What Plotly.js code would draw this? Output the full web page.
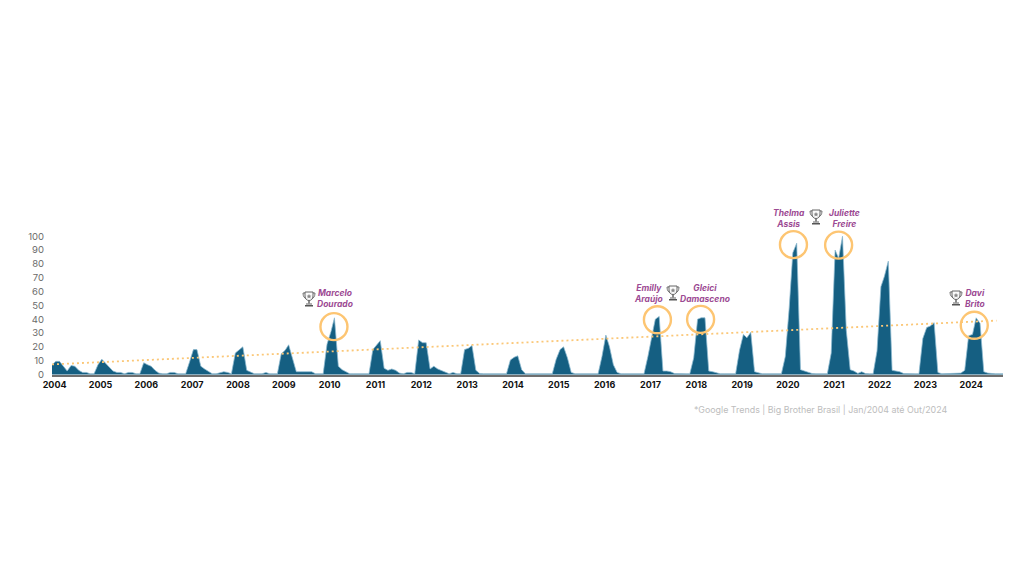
<!DOCTYPE html>
<html>
<head>
<meta charset="utf-8">
<script src="https://cdn.plot.ly/plotly-3.0.1.min.js"></script>
<style>html,body{margin:0;padding:0;background:#fff}#c{width:1024px;height:576px}</style>
</head>
<body>
<div id="c"></div>
<script>
const years = [2004,2005,2006,2007,2008,2009,2010,2011,2012,2013,2014,2015,2016,2017,2018,2019,2020,2021,2022,2023,2024];
const interest = [
  7,9.5,9.5,6,2.5,6.5,6,3,1.5,1.5,.5,.5,
  7,11,8.5,5,2.5,1.5,1.5,.5,1.5,1.5,.5,.5,
  8.5,7,6,3,1,.5,.5,1.5,1.5,.5,.5,.5,
  9,18,18,6,4,2,.5,.5,1,2,1.5,.5,
  15.5,18,20,3,2,.5,.5,.5,1.5,.5,.5,.5,
  15,17.5,21.5,12,2,2,2,2.5,2,.5,.5,.5,
  22,31,41,6,3.5,2,.5,.5,.5,.5,.5,.5,
  18,21,24.5,4.5,3,4,3,1,.5,1.5,1.5,.5,
  25,23,23,4,6,4,3,2,.5,1.5,.5,.5,
  18,19,21,3,.8,.5,.5,.5,.5,.5,.5,.5,
  10.5,12.5,13.5,3.5,.5,.5,.5,.5,.5,.5,.5,.5,
  11,18,20,12,1.5,.5,.5,.5,.5,.5,.5,.5,
  13,28.5,20,7,1.5,.5,.5,.5,.5,.5,.5,.5,
  13,27,40,42,2.5,2.5,2,.7,.5,.5,.5,.5,
  12,40,41,41,2.5,2,1,.5,.5,.5,.5,.5,
  17.5,29,26.5,30.5,2,1,.5,.5,.5,.5,.5,.5,
  13,48,88,95,3.5,2.5,2,.7,.5,.5,.5,.5,
  15.5,90,84,100,32,3.5,2.5,.8,2,.7,.5,.5,
  17,63.5,71,82,3,2.5,2,.7,.5,.5,.5,.5,
  26,34,35,37.5,1.5,.5,.5,.5,.5,.5,1,3,
  28,29,41,37,2,1,.5,.5,.5,.5
];
const yTicks = [0,10,20,30,40,50,60,70,80,90,100];
const trendDates = ['2004-01-01','2024-08-10'];
const trendValues = [7.3,39];
const winnerDates = ['2010-02-25','2017-03-18','2018-02-25','2020-03-06','2021-03-01','2024-02-15'];
const winnerRings = [34.6,39.6,39.9,93.9,93.6,35.6];
const winnerNames = ['Marcelo<br>Dourado','Emilly<br>Araújo','Gleici<br>Damasceno','Thelma<br>Assis','Juliette<br>Freire','Davi<br>Brito'];
const namePx = [[335,298],[648,293],[705,293],[789,218.5],[844,218.5],[975,298]];
const trophyPx = [[309,299],[673,293],[816,217],[956,298]];
const source = '*Google Trends | Big Brother Brasil | Jan/2004 até Out/2024';

const FONT = 'Inter, "Open Sans", sans-serif';
const PL = 52, PW = 951, PT = 200, PH = 175;
const px = x => (x - PL) / PW;
const py = y => (PT + PH - y) / PH;

const dates = interest.map((_, i) => {
  const y = years[0] + Math.floor(i / 12), m = i % 12 + 1;
  return y + '-' + String(m).padStart(2, '0') + '-01';
});

const trophySvg = 'data:image/svg+xml;utf8,' + encodeURIComponent(
  '<svg xmlns="http://www.w3.org/2000/svg" viewBox="0 0 28 32">' +
  '<path d="M7 4H2c0 7 3 11 8 12M21 4h5c0 7-3 11-8 12" fill="none" stroke="#666" stroke-width="1.8"/>' +
  '<path d="M6 2h16v8c0 6-4 9-8 9s-8-3-8-9z" fill="#fafafa" stroke="#555" stroke-width="1.8"/>' +
  '<path d="M14 6l1.6 3 3.2.4-2.4 2.2.7 3.2-3.1-1.6-3.1 1.6.7-3.2-2.4-2.2 3.2-.4z" fill="#888"/>' +
  '<rect x="12.5" y="19" width="3" height="6" fill="#666"/><rect x="8" y="25" width="12" height="2" fill="#666"/>' +
  '<rect x="6" y="28" width="16" height="3" fill="#555"/></svg>');

const traces = [
  {x: dates, y: interest, type: 'scatter', mode: 'lines', fill: 'tozeroy',
   fillcolor: '#155F82', line: {color: 'rgba(140,185,208,0.75)', width: 1}, hoverinfo: 'skip'},
  {x: trendDates, y: trendValues, type: 'scatter', mode: 'lines',
   line: {color: '#FBC777', width: 1.8, dash: '2px 3px'}, hoverinfo: 'skip'},
  {x: winnerDates, y: winnerRings, type: 'scatter', mode: 'markers', cliponaxis: false,
   marker: {symbol: 'circle-open', size: 27, color: '#FDC572', line: {color: '#FDC572', width: 2.4}}, hoverinfo: 'skip'}
];

const annotations = winnerNames.map((t, i) => ({
  text: t, xref: 'paper', yref: 'paper', x: px(namePx[i][0]), y: py(namePx[i][1]),
  xanchor: 'center', yanchor: 'middle', showarrow: false, align: 'center',
  font: {family: FONT, size: 8.5, color: '#9C4A93', weight: 700, style: 'italic'}
}));
annotations.push({
  text: source, xref: 'paper', yref: 'paper', x: px(692), y: py(409),
  xanchor: 'left', yanchor: 'middle', showarrow: false,
  font: {family: FONT, size: 8.9, color: '#BDBDBD'}
});

const layout = {
  width: 1024, height: 576, showlegend: false,
  paper_bgcolor: '#fff', plot_bgcolor: '#fff',
  margin: {l: PL, r: 1024 - PL - PW, t: PT, b: 576 - PT - PH, pad: 0},
  xaxis: {
    type: 'date', range: ['2004-01-01', '2024-10-01'],
    tickmode: 'array',
    tickvals: years.map(y => y + '-01-22'),
    ticktext: years.map(String),
    showgrid: false, zeroline: false, ticks: '', ticklabelstandoff: 0,
    showline: true, linecolor: '#6f6f6f', linewidth: 2,
    tickfont: {family: FONT, size: 9, color: '#111', weight: 700}
  },
  yaxis: {
    range: [-0.36, 126.2], tickmode: 'array', tickvals: yTicks, ticktext: yTicks.map(String),
    showgrid: false, zeroline: false, ticks: '', showline: false, ticklabelstandoff: 7,
    tickfont: {family: FONT, size: 9.5, color: '#6b6b6b'}
  },
  annotations,
  images: trophyPx.map(p => ({
    source: trophySvg, xref: 'paper', yref: 'paper', x: px(p[0]), y: py(p[1]),
    sizex: 14 / PW, sizey: 16 / PH, xanchor: 'center', yanchor: 'middle', sizing: 'contain', layer: 'above'
  }))
};
Plotly.newPlot('c', traces, layout, {displayModeBar: false, staticPlot: true});
</script>
</body>
</html>
